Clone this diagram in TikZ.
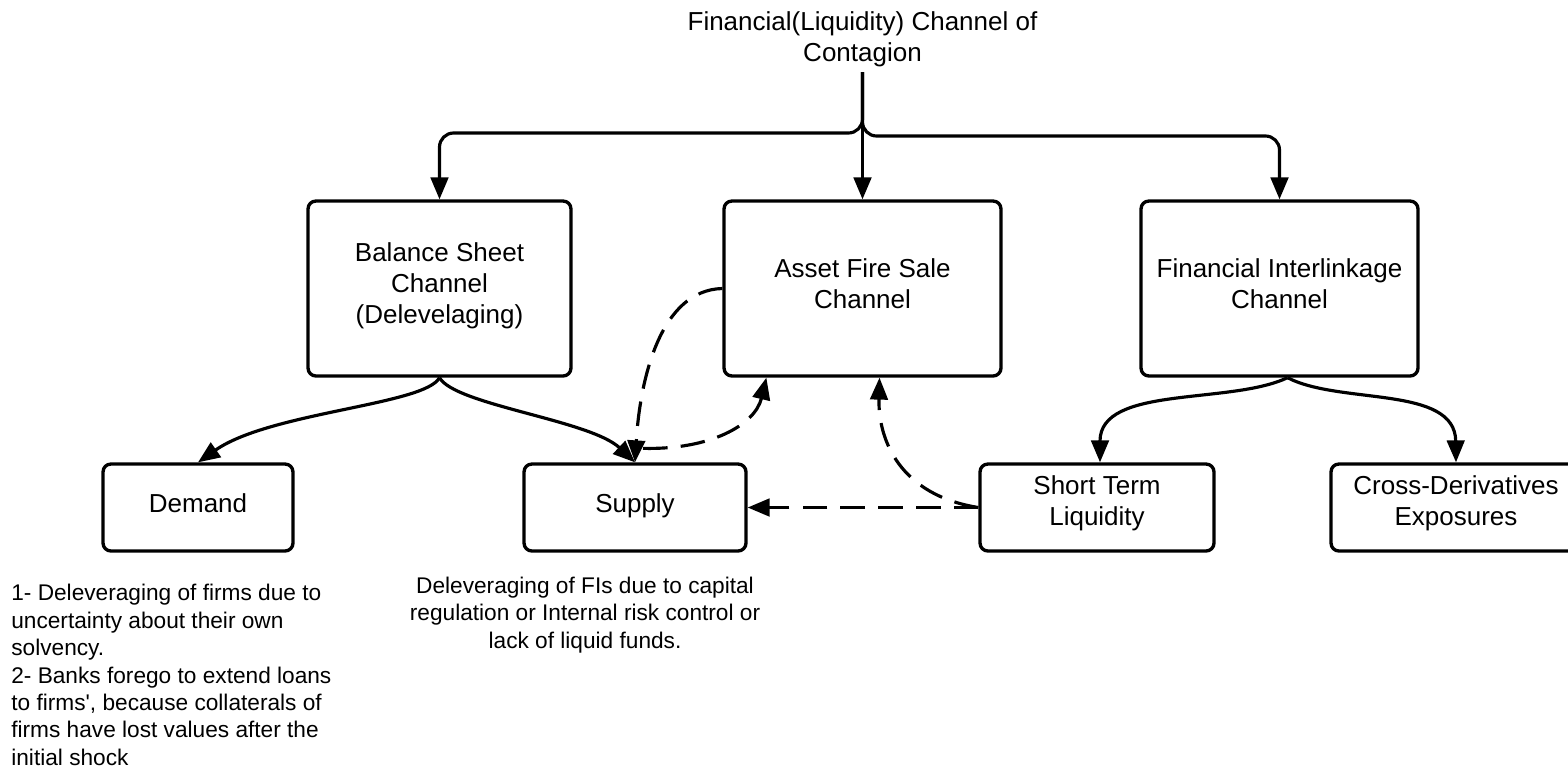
\documentclass[tikz,border=0pt]{standalone}
\usepackage{fontspec}
\setmainfont{Liberation Sans}[Ligatures=TeXOff]
\usetikzlibrary{arrows.meta,calc}
\begin{document}
\begin{tikzpicture}[x=0.02cm,y=-0.02cm,
  box/.style={draw, line width=1.9pt, rounded corners=4.5pt, inner sep=0pt},
  btext/.style={align=center, inner sep=0pt, yshift=2.4pt,
    font=\fontsize{14.8pt}{17.5pt}\selectfont},
  conn/.style={line width=1.8pt, -{Triangle[length=12.5pt,width=10pt]}},
  dconn/.style={conn, dash pattern=on 14pt off 7.5pt},
  note/.style={font=\fontsize{12.9pt}{15.6pt}\selectfont, inner sep=0pt}]
\useasboundingbox (0,0) rectangle (1568,768);

% title
\node[align=center, inner sep=0pt, font=\fontsize{14.8pt}{17.5pt}\selectfont] (title) at (862.5,39.5)
  {Financial(Liquidity) Channel of\\Contagion};
\coordinate (ts) at (862.5,72);

% upper boxes
\node[box, minimum width=5.26cm, minimum height=3.5cm,
  label={[btext, yshift=-0.8pt]center:{Balance Sheet\\Channel\\(Delevelaging)}}] (bal) at (439.5,288.5) {};
\node[box, minimum width=5.54cm, minimum height=3.5cm,
  label={[btext, yshift=0.4pt]center:{Asset Fire Sale\\Channel}}] (afs) at (862.5,288.5) {};
\node[box, minimum width=5.54cm, minimum height=3.5cm,
  label={[btext, yshift=0.4pt]center:{Financial Interlinkage\\Channel}}] (fin) at (1279.5,288.5) {};

% lower boxes
\node[box, minimum width=3.8cm, minimum height=1.74cm,
  label={[btext]center:Demand}] (dem) at (198,507.5) {};
\node[box, minimum width=4.44cm, minimum height=1.74cm,
  label={[btext, yshift=-1.4pt]center:Supply}] (sup) at (635,507.5) {};
\node[box, minimum width=4.68cm, minimum height=1.74cm,
  label={[btext]center:{Short Term\\Liquidity}}] (stl) at (1097,507.5) {};
\node[box, minimum width=5.0cm, minimum height=1.74cm,
  label={[btext]center:{Cross-Derivatives\\Exposures}}] (cde) at (1456,507.5) {};

% notes
\node[note, align=left, anchor=west] (n1) at (11,675)
  {1- Deleveraging of firms due to\\uncertainty about their own\\solvency.\\2- Banks forego to extend loans\\to firms', because collaterals of\\firms have lost values after the\\initial shock};
\node[note, align=center] (n2) at (585,615)
  {Deleveraging of FIs due to capital\\regulation or Internal risk control or\\lack of liquid funds.};

% top connectors
\draw[conn, rounded corners=8pt] (ts) -- (862.5,133) -| (bal.north);
\draw[conn, rounded corners=8pt] (ts) -- (862.5,136) -| (fin.north);
\draw[conn] (ts) -- (afs.north);

% balance sheet branches
\draw[conn] (bal.south) .. controls (425,405) and (270,412) .. (dem.north);
\draw[conn] (bal.south) .. controls (455,405) and (590,420) .. (sup.north);

% financial interlinkage branches
\draw[conn] ($(fin.south)+(8,0)$) .. controls (1230,405) and (1100,385) .. ($(stl.north)+(3,0)$);
\draw[conn] ($(fin.south)+(8,0)$) .. controls (1340,405) and (1455,385) .. (cde.north);

% dashed feedback
\draw[dconn] (afs.west) .. controls (660,290) and (640,380) .. (sup.north);
\draw[dconn] ($(sup.north)+(8,-14)$) .. controls (710,450) and (755,425) .. ($(afs.south west)+(44,0)$);
\draw[dconn] (stl.west) .. controls (900,495) and (878,440) .. ($(afs.south)+(17,0)$);
\draw[dconn] (stl.west) -- (sup.east);
\end{tikzpicture}
\end{document}
